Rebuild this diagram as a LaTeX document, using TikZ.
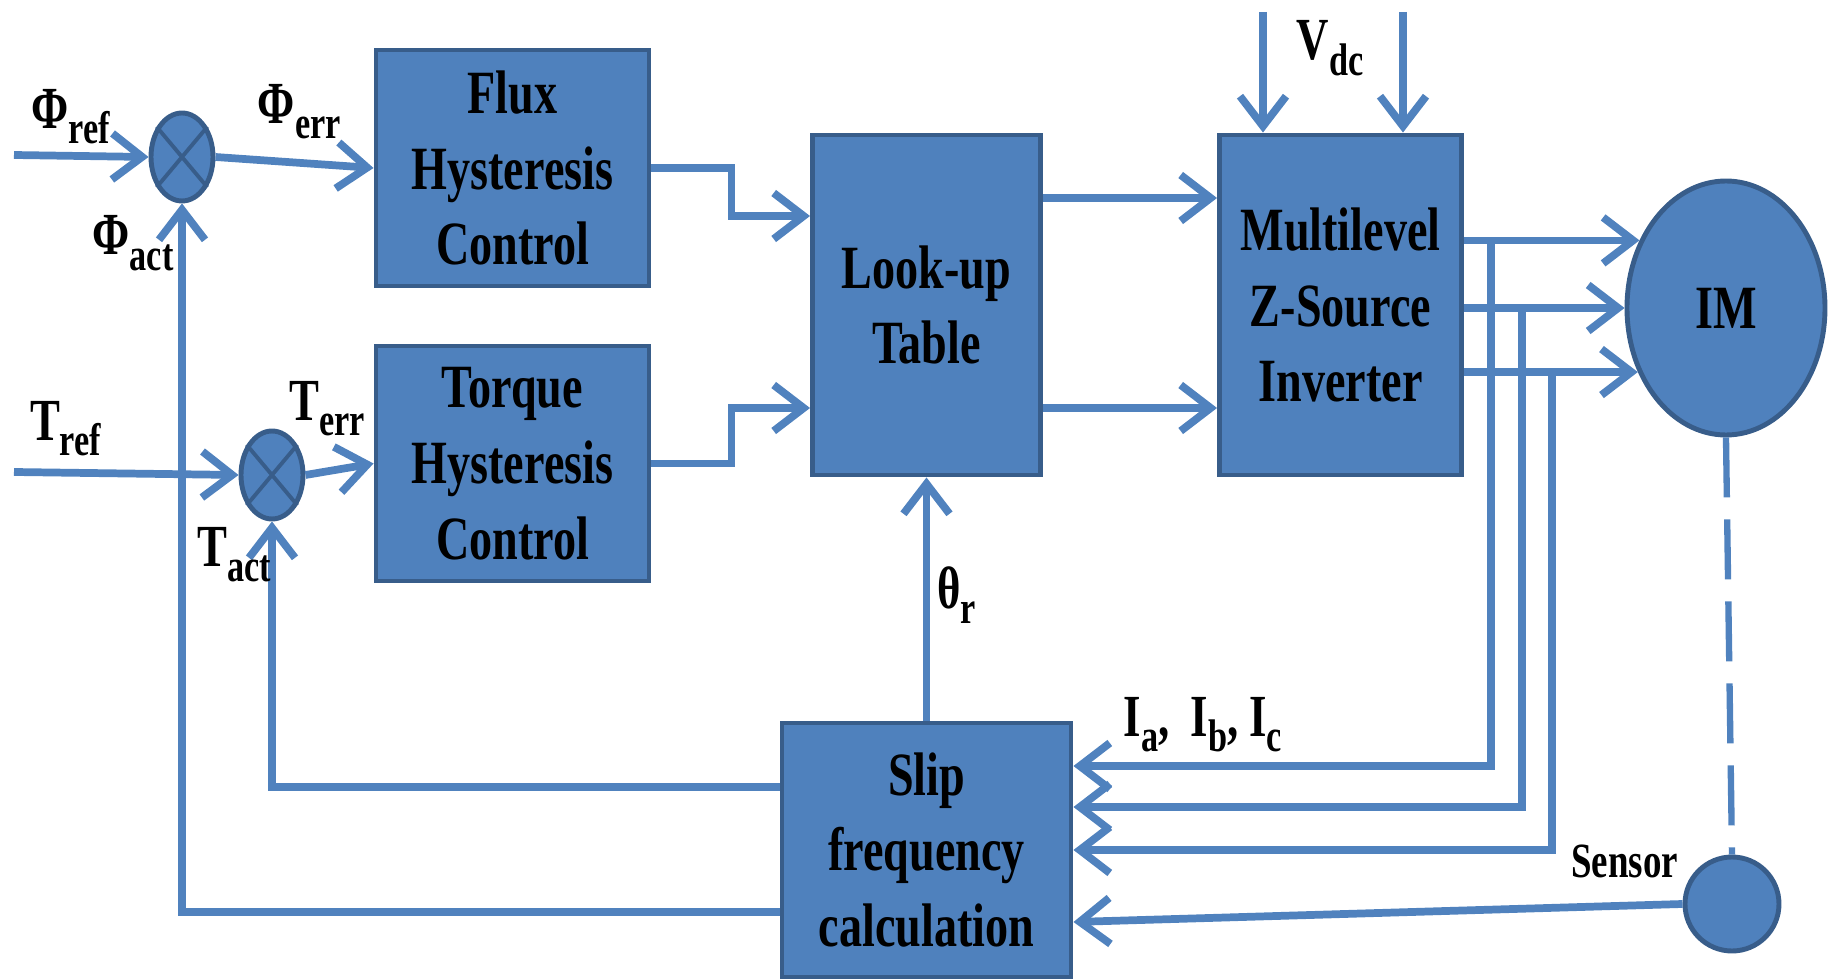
\documentclass[tikz,border=0pt]{standalone}
\usepackage{fontspec}
\setmainfont[FakeStretch=0.75]{Liberation Serif}
\usetikzlibrary{shapes.geometric,arrows.meta,positioning}
\definecolor{boxblue}{HTML}{4F81BD}
\definecolor{edgeblue}{HTML}{385D8A}
\definecolor{wireblue}{HTML}{5082BE}
\tikzstyle{block} = [rectangle, draw=edgeblue, line width=1.4pt, fill=boxblue, inner sep=0pt, text centered, align=center, font=\fontsize{17.5}{21.6}\selectfont\bfseries]
\tikzstyle{summer} = [ellipse, draw=edgeblue, line width=1.4pt, fill=boxblue, minimum width=0.62cm, minimum height=0.88cm, inner sep=0pt]
\tikzstyle{motor} = [ellipse, draw=edgeblue, line width=1.4pt, fill=boxblue, minimum width=1.98cm, minimum height=2.54cm, inner sep=0pt, font=\fontsize{17.5}{21.6}\selectfont\bfseries]
\tikzstyle{probe} = [circle, draw=edgeblue, line width=1.4pt, fill=boxblue, minimum size=0.94cm, inner sep=0pt]
\tikzstyle{wire} = [line width=2.2pt, draw=wireblue]
\tikzstyle{arrow} = [wire, -{Straight Barb[length=3mm,width=4.6mm]}]
\tikzstyle{lbl} = [inner sep=0pt, font=\fontsize{17}{17}\selectfont\bfseries]
\newcommand{\sgl}[2]{#1\raisebox{-0.55ex}{\fontsize{13}{13}\selectfont #2}}

\begin{document}
\begin{tikzpicture}[node distance = 4.14cm]
\useasboundingbox (0,0) rectangle (18.29,-9.79);

\node (flux) [block, minimum width=2.73cm, minimum height=2.36cm] at (5.125,-1.68) {Flux\\Hysteresis\\Control};
\node (torque) [block, minimum width=2.73cm, minimum height=2.35cm, below of = flux, yshift=1.185cm] {Torque\\Hysteresis\\Control};
\node (lut) [block, minimum width=2.28cm, minimum height=3.40cm, right of = flux, yshift=-1.37cm] {Look-up\\Table};
\node (inv) [block, minimum width=2.42cm, minimum height=3.40cm, right of = lut] {Multilevel\\Z-Source\\Inverter};
\node (im) [motor, right of = inv, xshift=-0.285cm, yshift=-0.03cm] {IM};
\node (slip) [block, minimum width=2.89cm, minimum height=2.54cm, below of = lut, yshift=-1.31cm] {Slip\\frequency\\calculation};
\node (sensor) [probe, below of = im, yshift=-1.82cm, xshift=0.06cm] {};
\node (sum1) [summer, left of = flux, xshift=0.835cm, yshift=0.11cm] {};
\node (sum2) [summer, left of = torque, xshift=1.735cm, yshift=-0.115cm] {};
\foreach \s in {sum1,sum2}
  \draw [edgeblue, line width=1.1pt] (\s.50) -- (\s.230) (\s.130) -- (\s.310);

\coordinate (phiin) at (0.14,-1.55);
\coordinate (tin) at (0.14,-4.72);
\coordinate (vdcl) at (12.63,-0.12);
\coordinate (vdcr) at (14.03,-0.12);
\coordinate (ia) at (14.91,-2.43);
\coordinate (ib) at (15.22,-3.08);
\coordinate (ic) at (15.52,-3.71);

% references and errors
\draw [arrow] (phiin) -- node[lbl, pos=0.42, yshift=0.39cm]{\sgl{Φ}{ref}} (sum1.west);
\draw [arrow] (sum1.east) -- node[lbl, pos=0.53, yshift=0.51cm]{\sgl{Φ}{err}} (flux.west);
\draw [arrow] (tin) -- node[lbl, pos=0.23, yshift=0.44cm]{\sgl{T}{ref}} (sum2.west);
\draw [arrow] (sum2.east) -- node[lbl, pos=0.32, yshift=0.63cm]{\sgl{T}{err}} (torque.west);

\draw [arrow] (flux.east) -- ++(0.8,0) |- ([yshift=0.89cm]lut.west);
\draw [arrow] (torque.east) -- ++(0.8,0) |- ([yshift=-1.03cm]lut.west);
\draw [arrow] ([yshift=1.07cm]lut.east) -- ([yshift=1.07cm]inv.west);
\draw [arrow] ([yshift=-1.03cm]lut.east) -- ([yshift=-1.03cm]inv.west);

% dc link
\draw [arrow] (vdcl) -- node[lbl, pos=0.3, xshift=0.67cm]{\sgl{V}{dc}} (vdcl |- inv.north);
\draw [arrow] (vdcr) -- (vdcr |- inv.north);

% inverter to motor
\draw [arrow] (inv.east |- im.142.6) -- (im.142.6);
\draw [arrow] (inv.east |- im.west) -- (im.west);
\draw [arrow] (inv.east |- im.216.3) -- (im.216.3);

% current feedback
\draw [arrow] (ia) |- node[lbl, pos=0.845, yshift=0.41cm]{\sgl{I}{a},\, \sgl{I}{b}, \sgl{I}{c}} ([yshift=0.84cm]slip.east);
\draw [arrow] (ib) |- ([yshift=0.43cm]slip.east);
\draw [arrow] (ic) |- (slip.east);
\draw [wire, line width=1.8pt, dash pattern=on 6mm off 2.2mm] (im.south) -- (sensor.north);
\draw [arrow] (sensor.west) -- node[pos=0, xshift=-0.58cm, yshift=0.43cm, inner sep=0pt, font=\fontsize{14}{14}\selectfont\bfseries]{Sensor} ([yshift=-0.72cm]slip.east);

% outputs of slip block
\draw [arrow] (slip.north) -- node[lbl, pos=0.516, xshift=0.30cm]{\sgl{θ}{r}} (lut.south);
\draw [arrow] ([yshift=0.63cm]slip.west) -| node[lbl, pos=0.937, xshift=-0.38cm]{\sgl{T}{act}} (sum2.south);
\draw [arrow] ([yshift=-0.62cm]slip.west) -| node[lbl, pos=0.972, xshift=-0.49cm]{\sgl{Φ}{act}} (sum1.south);

\end{tikzpicture}
\end{document}
